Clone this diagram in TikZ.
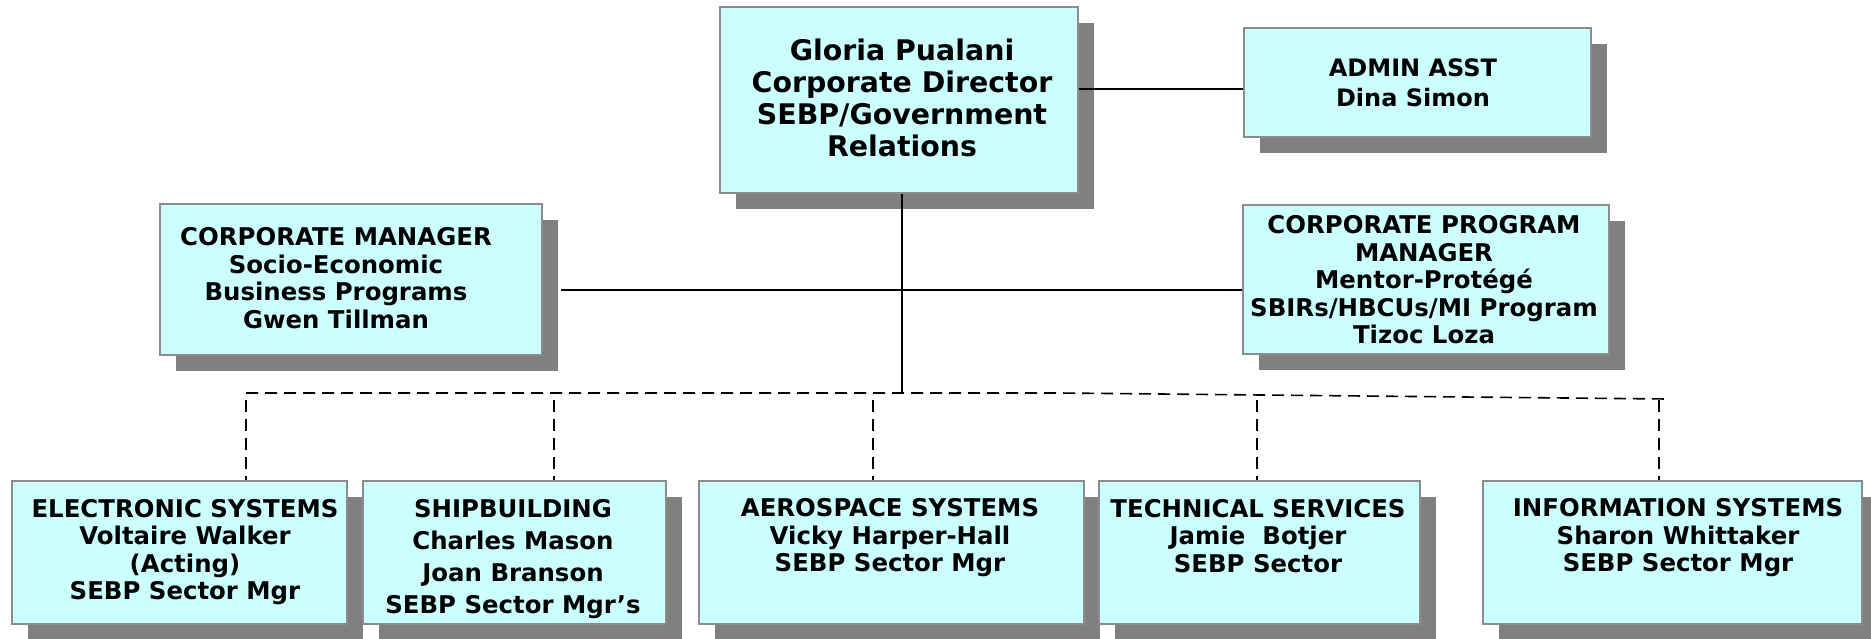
\documentclass[tikz,border=0pt]{standalone}
\usepackage{fontspec}
\setmainfont{DejaVu Sans}
\usetikzlibrary{shadows}
\definecolor{boxfill}{HTML}{CCFFFF}
\definecolor{boxline}{HTML}{8C8C8C}
\definecolor{shade}{HTML}{808080}
\begin{document}
\begin{tikzpicture}[x=1pt,y=-1pt,
 box/.style={draw=boxline, line width=1.5pt, fill=boxfill, anchor=north west, inner sep=0pt,
   drop shadow={shadow xshift=16pt, shadow yshift=-16pt, fill=shade, opacity=1}},
 txt/.style={align=center, font=\bfseries\fontsize{24.4}{27.5}\selectfont, inner sep=0pt},
 conn/.style={line width=1.6pt, black},
 dconn/.style={conn, dash pattern=on 12pt off 7pt}]
\useasboundingbox (0,0) rectangle (1871,638);
% boxes
\node[box, minimum width=358pt, minimum height=186pt] (dir) at (719,6) {};
\node[box, minimum width=347pt, minimum height=109pt] (adm) at (1243,27) {};
\node[box, minimum width=382pt, minimum height=151pt] (cm) at (159,203) {};
\node[box, minimum width=366pt, minimum height=149pt] (cpm) at (1242,204) {};
\node[box, minimum width=335pt, minimum height=143pt] (es) at (11,480) {};
\node[box, minimum width=303pt, minimum height=143pt] (sb) at (362,480) {};
\node[box, minimum width=385pt, minimum height=143pt] (as) at (698,480) {};
\node[box, minimum width=321pt, minimum height=143pt] (ts) at (1098,480) {};
\node[box, minimum width=379pt, minimum height=143pt] (is) at (1482,480) {};
% texts
\node[txt, font=\bfseries\fontsize{28.4}{32}\selectfont] (tdir) at (902,98) {Gloria Pualani\\Corporate Director\\SEBP/Government\\Relations};
\node[txt, font=\bfseries\fontsize{24}{30.5}\selectfont] (tadm) at (1413,83) {ADMIN ASST\\Dina Simon};
\node[txt] (tcm) at (336,278) {CORPORATE MANAGER\\Socio-Economic\\Business Programs\\Gwen Tillman};
\node[txt] (tcpm) at (1424,280) {CORPORATE PROGRAM\\MANAGER\\Mentor-Protégé\\SBIRs/HBCUs/MI Program\\Tizoc Loza};
\node[txt] (tes) at (185,552) {ELECTRONIC SYSTEMS\\Voltaire Walker\\(Acting)\\SEBP Sector Mgr};
\node[txt, font=\bfseries\fontsize{24.4}{32}\selectfont] (tsb) at (513,559) {SHIPBUILDING\\Charles Mason\\Joan Branson\\SEBP Sector Mgr’s};
\node[txt] (tas) at (890,538) {AEROSPACE SYSTEMS\\Vicky Harper-Hall\\SEBP Sector Mgr};
\node[txt] (tts) at (1258,536) {TECHNICAL SERVICES\\Jamie\ \ Botjer\\SEBP Sector};
\node[txt] (tis) at (1678,538) {INFORMATION SYSTEMS\\Sharon Whittaker\\SEBP Sector Mgr};
% connectors
\coordinate (j1) at (902,290);
\coordinate (cml) at (561,290);
\coordinate (j2) at (902,393);
\coordinate (dl) at (246,393);
\coordinate (dm) at (1060,393);
\coordinate (dr) at (1668,399);
\coordinate (v1) at (246,400);
\coordinate (v2) at (554,400);
\coordinate (v3) at (873,400);
\coordinate (v4) at (1257,400);
\coordinate (v5) at (1659,400);
\draw[conn] (dir.east |- 0,89) -- (adm.west |- 0,89);
\draw[conn] (dir.south -| j1) -- (j2);
\draw[conn] (cml) -- (j1) -- (cpm.west |- j1);
\draw[dconn] (dl) -- (j2) -- (dm) -- (dr);
\draw[dconn] (v1) -- (es.north -| v1);
\draw[dconn] (v2) -- (sb.north -| v2);
\draw[dconn] (v3) -- (as.north -| v3);
\draw[dconn] (v4) -- (ts.north -| v4);
\draw[dconn] (v5) -- (is.north -| v5);
\end{tikzpicture}
\end{document}
